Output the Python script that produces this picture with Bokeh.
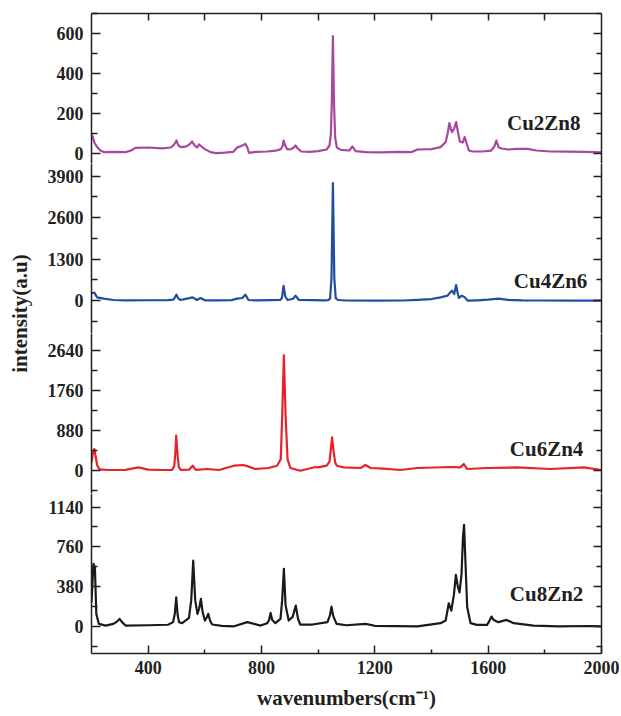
import numpy as np
from bokeh.plotting import figure
from bokeh.layouts import row, column
from bokeh.models import LinearAxis, FixedTicker, Range1d
from bokeh.core.properties import value
from bokeh.embed import file_html
from bokeh.resources import INLINE

# ---------------- data ----------------
series_names = ["Cu2Zn8", "Cu4Zn6", "Cu6Zn4", "Cu8Zn2"]

wn_cu2zn8 = [200, 204, 210, 220, 232, 245, 280, 320, 340, 355,
             400, 450, 480, 490, 496, 500, 505, 512, 520, 535,
             548, 555, 562, 572, 580, 588, 600, 620, 640, 670,
             700, 714, 730, 743, 750, 756, 780, 820, 850, 868,
             874, 878, 883, 890, 900, 912, 920, 928, 940, 970,
             1000, 1030, 1040, 1045, 1048, 1052, 1056, 1060, 1066, 1080,
             1110, 1121, 1132, 1170, 1220, 1280, 1330, 1350, 1400, 1432,
             1450, 1457, 1463, 1468, 1472, 1480, 1487, 1493, 1500, 1510,
             1517, 1524, 1532, 1545, 1580, 1610, 1622, 1629, 1637, 1648,
             1670, 1700, 1740, 1770, 1820, 1880, 1940, 2000]
int_cu2zn8 = [95, 85, 55, 32, 14, 7, 8, 7, 15, 28,
              30, 26, 30, 42, 55, 65, 45, 34, 32, 36,
              48, 60, 44, 30, 45, 35, 22, 7, 2, 4,
              8, 30, 38, 48, 30, 3, 8, 10, 14, 22,
              35, 65, 42, 22, 20, 28, 40, 25, 10, 8,
              12, 20, 40, 100, 250, 587, 250, 80, 30, 18,
              15, 35, 12, 7, 6, 8, 7, 20, 22, 32,
              57, 100, 152, 125, 107, 125, 157, 110, 60, 55,
              82, 50, 15, 10, 10, 14, 35, 65, 30, 25,
              20, 23, 23, 15, 10, 9, 8, 6]

wn_cu4zn6 = [200, 205, 210, 220, 243, 278, 320, 400, 470, 488,
             494, 500, 506, 514, 537, 557, 572, 585, 600, 640,
             694, 714, 732, 743, 754, 780, 830, 866, 872, 878,
             884, 892, 912, 920, 932, 980, 1020, 1035, 1042, 1047,
             1052, 1057, 1062, 1070, 1100, 1200, 1300, 1350, 1400, 1432,
             1457, 1465, 1472, 1480, 1487, 1492, 1497, 1507, 1517, 1528,
             1560, 1600, 1636, 1670, 1720, 1800, 1900, 2000]
int_cu4zn6 = [230, 240, 250, 104, 63, 20, 10, 12, 15, 30,
              90, 188, 70, 20, 63, 104, 20, 83, 10, 8,
              15, 63, 83, 188, 20, 10, 15, 20, 80, 460,
              130, 20, 60, 157, 20, 15, 10, 15, 60, 700,
              3687, 700, 80, 20, 5, 0, 5, 26, 50, 104,
              157, 250, 313, 209, 491, 250, 83, 157, 104, 0,
              10, 30, 63, 25, 10, 5, 0, 0]

wn_cu6zn4 = [200, 205, 210, 215, 220, 228, 260, 320, 366, 400,
             450, 485, 492, 496, 499, 503, 508, 516, 545, 557,
             568, 607, 650, 703, 735, 750, 778, 825, 855, 868,
             873, 879, 885, 892, 902, 937, 990, 1000, 1030, 1040,
             1045, 1049, 1054, 1060, 1066, 1090, 1150, 1167, 1185, 1230,
             1290, 1350, 1467, 1502, 1514, 1526, 1596, 1702, 1820, 1937, 2000]
int_cu6zn4 = [183, 380, 477, 300, 120, 30, 15, 20, 73, 25,
              15, 20, 100, 400, 770, 400, 80, 15, 25, 110,
              20, 37, 15, 110, 125, 100, 37, 59, 110, 250,
              1200, 2530, 1200, 250, 59, 0, 81, 73, 110, 200,
              480, 733, 450, 180, 110, 73, 59, 125, 59, 44,
              15, 59, 81, 73, 147, 37, 59, 73, 37, 73, 15]

wn_cu8zn2 = [200, 204, 207, 212, 217, 226, 250, 277, 290, 299,
             308, 320, 400, 470, 488, 494, 499, 504, 509, 520,
             544, 552, 559, 566, 574, 580, 586, 592, 600, 606,
             612, 619, 626, 660, 703, 750, 797, 820, 827, 832,
             838, 849, 867, 873, 879, 885, 896, 910, 921, 929,
             937, 980, 1033, 1042, 1047, 1053, 1065, 1100, 1167, 1200,
             1350, 1432, 1450, 1461, 1470, 1479, 1486, 1493, 1499, 1506,
             1511, 1515, 1520, 1526, 1538, 1560, 1596, 1604, 1612, 1620,
             1636, 1665, 1690, 1760, 1850, 1950, 2000]
int_cu8zn2 = [230, 450, 597, 565, 119, 23, 7, 23, 45, 71,
              40, 7, 10, 15, 40, 120, 278, 110, 40, 30,
              80, 250, 629, 250, 119, 170, 262, 140, 55, 80,
              119, 50, 17, 5, 0, 40, 7, 30, 60, 128,
              60, 30, 71, 250, 549, 200, 55, 90, 198, 70,
              17, 17, 40, 110, 188, 100, 23, 10, 23, 5,
              0, 30, 55, 220, 150, 300, 491, 380, 325, 500,
              850, 970, 600, 182, 30, 14, 14, 50, 93, 60,
              40, 61, 30, 7, 0, 3, 0]

# y tick values of each panel
yticks_cu2zn8 = [0, 200, 400, 600]
yticks_cu4zn6 = [0, 1300, 2600, 3900]
yticks_cu6zn4 = [0, 880, 1760, 2640]
yticks_cu8zn2 = [0, 380, 760, 1140]
xticks = [400, 800, 1200, 1600, 2000]

x_title = "wavenumbers(cm\u207b\u00b9)"
y_title = "intensity(a.u)"

# ---------------- styling ----------------
FONT = "Liberation Serif"
AXC = "#231F20"
LEFT_W = 40
PANEL_W = 621 - LEFT_W

panels = [
    dict(name="Cu2Zn8", x=wn_cu2zn8, y=int_cu2zn8, color="#A8479D",
         yr=(-50, 700), fh=150, ticks=yticks_cu2zn8, lab=(1926, 155)),
    dict(name="Cu4Zn6", x=wn_cu4zn6, y=int_cu4zn6, color="#1F4EA0",
         yr=(-1030, 4298), fh=170, ticks=yticks_cu4zn6, lab=(1950, 627)),
    dict(name="Cu6Zn4", x=wn_cu6zn4, y=int_cu6zn4, color="#E8222B",
         yr=(-500, 3010), fh=160, ticks=yticks_cu6zn4, lab=(1936, 477)),
    dict(name="Cu8Zn2", x=wn_cu8zn2, y=int_cu8zn2, color="#1A1A1A",
         yr=(-260, 1270), fh=160, ticks=yticks_cu8zn2, lab=(1936, 310)),
]

x_range = Range1d(200, 2000)


def style(ax, show_labels=True):
    ax.axis_line_color = AXC
    ax.axis_line_width = 1.5
    ax.major_tick_line_color = AXC
    ax.major_tick_line_width = 1.5
    ax.minor_tick_line_color = AXC
    ax.minor_tick_line_width = 1.5
    ax.major_tick_out = 0
    ax.minor_tick_out = 0
    if show_labels:
        ax.major_label_text_font = FONT
        ax.major_label_text_font_style = "bold"
        ax.major_label_text_font_size = "18px"
        ax.major_label_text_color = AXC
    else:
        ax.major_label_text_font_size = "0px"
        ax.major_label_text_color = None


figs = []
for i, pn in enumerate(panels):
    top = i == 0
    bottom = i == len(panels) - 1
    h = pn["fh"] + (13 if top else 0) + (63 if bottom else 0)
    p = figure(width=PANEL_W, height=h, x_range=x_range,
               y_range=Range1d(*pn["yr"]),
               x_axis_type=None, y_axis_type=None,
               toolbar_location=None, output_backend="svg",
               min_border_left=51, min_border_right=20,
               min_border_top=13 if top else 0,
               min_border_bottom=63 if bottom else 0)
    p.outline_line_color = None
    p.background_fill_color = "white"
    p.border_fill_color = "white"

    t = pn["ticks"]
    step = t[1] - t[0]
    minor = [v - step / 2 for v in t] + [t[-1] + step / 2]
    lo, hi = pn["yr"]
    minor = [m for m in minor if lo <= m <= hi]

    left = LinearAxis(ticker=FixedTicker(ticks=t, minor_ticks=minor))
    style(left)
    left.major_tick_in = 9
    left.minor_tick_in = 6
    left.major_label_standoff = 8
    p.add_layout(left, "left")

    right = LinearAxis(ticker=FixedTicker(ticks=t, minor_ticks=minor))
    style(right, show_labels=False)
    right.major_tick_in = 8
    right.minor_tick_in = 5
    p.add_layout(right, "right")

    if top:
        ax_top = LinearAxis(ticker=FixedTicker(ticks=[400, 600, 800, 1000, 1200, 1400, 1600, 1800]))
        style(ax_top, show_labels=False)
        ax_top.major_tick_in = 7
        p.add_layout(ax_top, "above")
    if bottom:
        ax_b = LinearAxis(ticker=FixedTicker(ticks=xticks, minor_ticks=[600, 1000, 1400, 1800]))
        style(ax_b)
        ax_b.major_tick_in = 8
        ax_b.minor_tick_in = 4
        ax_b.major_label_standoff = 7
        ax_b.axis_label = x_title
        ax_b.axis_label_text_font = FONT
        ax_b.axis_label_text_font_style = "bold"
        ax_b.axis_label_text_font_size = "21px"
        ax_b.axis_label_text_color = AXC
        ax_b.axis_label_standoff = 9
        p.add_layout(ax_b, "below")

    p.line(pn["x"], pn["y"], line_color=pn["color"], line_width=2.2,
           line_join="round")
    p.text(x=[pn["lab"][0]], y=[pn["lab"][1]], text=[pn["name"]],
           text_align="right", text_baseline="middle",
           text_font=value(FONT), text_font_style="bold",
           text_font_size="21px", text_color=AXC)
    figs.append(p)

lab = figure(width=LEFT_W, height=716, x_range=Range1d(0, LEFT_W),
             y_range=Range1d(0, 716), x_axis_type=None, y_axis_type=None,
             toolbar_location=None, output_backend="svg", min_border=0)
lab.outline_line_color = None
lab.text(x=[19], y=[716 - 313], text=[y_title], angle=np.pi / 2,
         text_align="center", text_baseline="middle",
         text_font=value(FONT), text_font_style="bold",
         text_font_size="21px", text_color=AXC)

layout = row(lab, column(*figs, spacing=0), spacing=0)

open("out.html", "w").write(file_html(layout, INLINE))
